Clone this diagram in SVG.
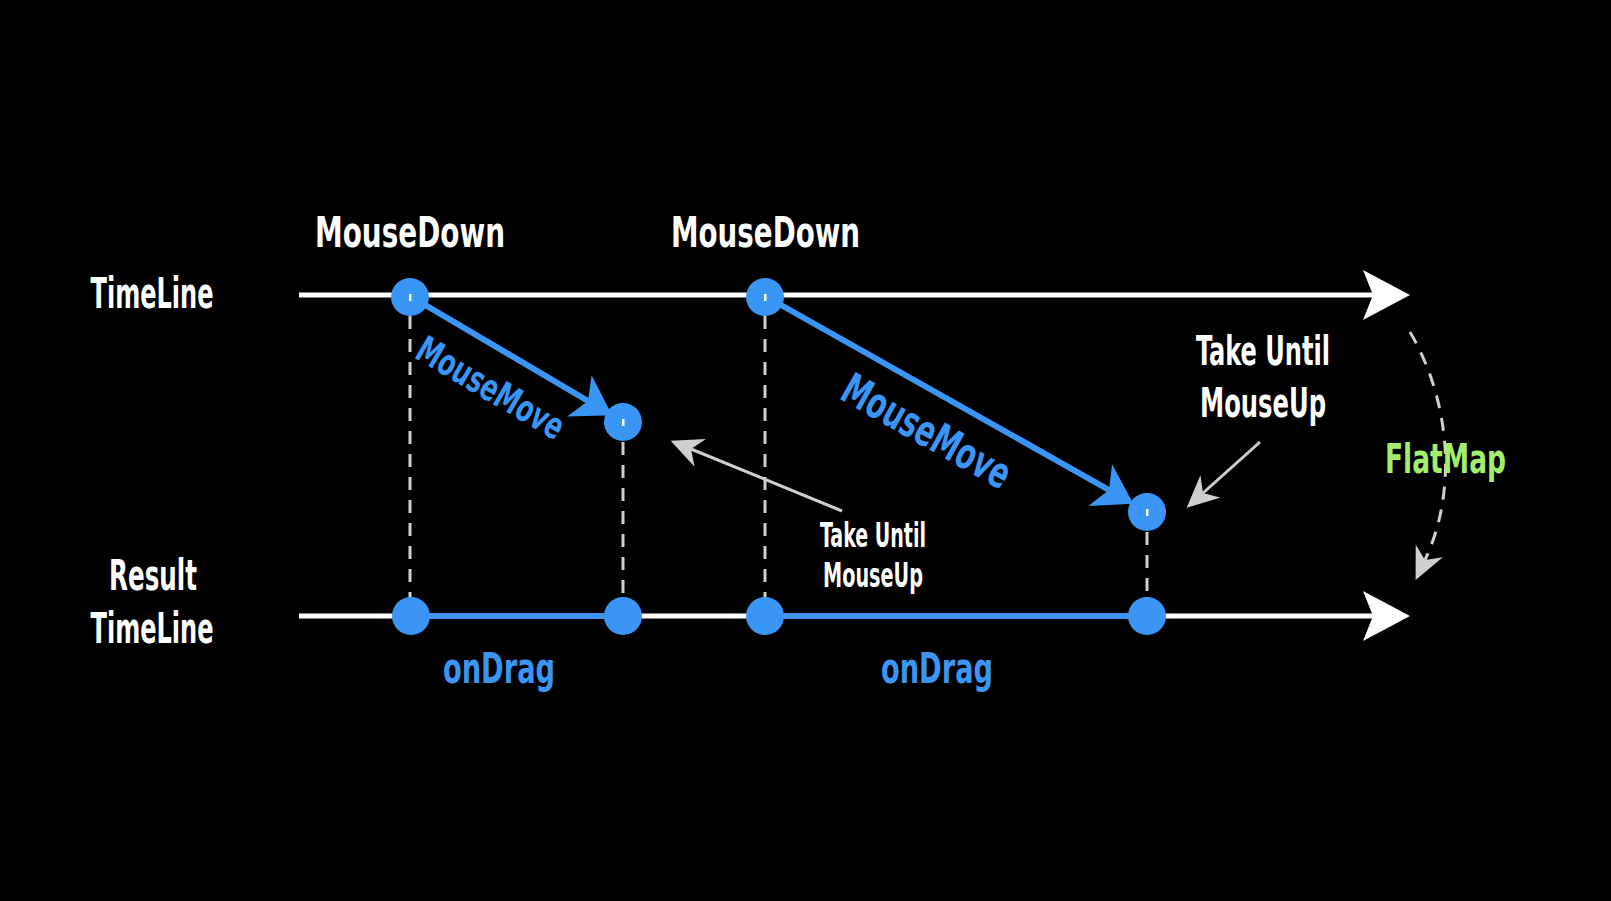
<svg xmlns="http://www.w3.org/2000/svg" width="1611" height="901" viewBox="0 0 1611 901">
<defs>
<style>
text{font-family:"DejaVu Sans Condensed","DejaVu Sans","Liberation Sans",sans-serif;font-weight:bold;}
.w{fill:#ffffff;}
.b{fill:#3b95f4;}
.g{fill:#a4ee6e;}
.tl{stroke:#ffffff;stroke-width:5;fill:none;}
.bl{stroke:#3b95f4;stroke-width:6;fill:none;}
.dash{stroke:#cfcfcf;stroke-width:3;stroke-dasharray:13 10;fill:none;}
.gr{stroke:#cfcfcf;stroke-width:3;fill:none;}
.dot{fill:#3b95f4;}
.tick{fill:#ffffff;}
</style>
<marker id="aw" markerUnits="userSpaceOnUse" viewBox="0 0 47 50" refX="10" refY="25" markerWidth="47" markerHeight="50" orient="auto">
<path d="M0,0 L47,25 L0,50 L10,25 Z" fill="#ffffff"/>
</marker>
<marker id="ab" markerUnits="userSpaceOnUse" viewBox="0 0 38 48" refX="10" refY="24" markerWidth="38" markerHeight="48" orient="auto">
<path d="M0,0 L38,24 L0,48 L10,24 Z" fill="#3b95f4"/>
</marker>
<marker id="ag" markerUnits="userSpaceOnUse" viewBox="0 0 32 30" refX="10" refY="15" markerWidth="32" markerHeight="30" orient="auto">
<path d="M0,0 L32,15 L0,30 L10,15 Z" fill="#cfcfcf"/>
</marker>
</defs>
<rect x="0" y="0" width="1611" height="901" fill="#000000"/>

<g id="connectors">
<line class="tl" x1="299" y1="295" x2="1373" y2="295" marker-end="url(#aw)"/>
<line class="tl" x1="299" y1="616" x2="1373" y2="616" marker-end="url(#aw)"/>
<line class="bl" x1="411" y1="616" x2="623" y2="616"/>
<line class="bl" x1="765" y1="616" x2="1147" y2="616"/>
<line class="dash" x1="410" y1="316" x2="410" y2="598"/>
<line class="dash" x1="623" y1="442" x2="623" y2="598"/>
<line class="dash" x1="765" y1="316" x2="765" y2="598"/>
<line class="dash" x1="1147" y1="532" x2="1147" y2="598"/>
<line class="bl" x1="410" y1="296" x2="588" y2="401" marker-end="url(#ab)"/>
<line class="bl" x1="765" y1="296" x2="1109" y2="490" marker-end="url(#ab)"/>
<line class="gr" x1="842" y1="511" x2="691" y2="449" marker-end="url(#ag)"/>
<line class="gr" x1="1260" y1="442" x2="1203" y2="493" marker-end="url(#ag)"/>
<path class="dash" d="M1410,332 C1450,400 1458,490 1425,560" marker-end="url(#ag)"/>
</g>

<g id="dots">
<g id="n-md1"><circle class="dot" cx="410" cy="297" r="19"/><rect class="tick" x="409" y="294" width="2.5" height="7"/></g>
<g id="n-md2"><circle class="dot" cx="765" cy="297" r="19"/><rect class="tick" x="764" y="294" width="2.5" height="7"/></g>
<g id="n-mu1"><circle class="dot" cx="623" cy="422" r="19"/><rect class="tick" x="622" y="419" width="2.5" height="7"/></g>
<g id="n-mu2"><circle class="dot" cx="1147" cy="512" r="19"/><rect class="tick" x="1146" y="509" width="2.5" height="7"/></g>
<g id="n-r1"><circle class="dot" cx="411" cy="616" r="19"/></g>
<g id="n-r2"><circle class="dot" cx="623" cy="616" r="19"/></g>
<g id="n-r3"><circle class="dot" cx="765" cy="616" r="19"/></g>
<g id="n-r4"><circle class="dot" cx="1147" cy="616" r="19"/></g>
</g>

<g id="labels">
<text class="w" x="152" y="308" font-size="42" text-anchor="middle" textLength="123" lengthAdjust="spacingAndGlyphs">TimeLine</text>
<text class="w" x="153" y="590" font-size="42" text-anchor="middle" textLength="88" lengthAdjust="spacingAndGlyphs">Result</text>
<text class="w" x="152" y="643" font-size="42" text-anchor="middle" textLength="123" lengthAdjust="spacingAndGlyphs">TimeLine</text>
<text class="w" x="315" y="247" font-size="43" textLength="190" lengthAdjust="spacingAndGlyphs">MouseDown</text>
<text class="w" x="671" y="247" font-size="43" textLength="189" lengthAdjust="spacingAndGlyphs">MouseDown</text>
<text class="b" x="443" y="683" font-size="42" textLength="112" lengthAdjust="spacingAndGlyphs">onDrag</text>
<text class="b" x="881" y="683" font-size="42" textLength="112" lengthAdjust="spacingAndGlyphs">onDrag</text>
<text class="b" font-size="37" textLength="165" lengthAdjust="spacingAndGlyphs" transform="translate(413,357) rotate(30.5)">MouseMove</text>
<text class="b" font-size="43" textLength="187" lengthAdjust="spacingAndGlyphs" transform="translate(838,398) rotate(29.5)">MouseMove</text>
<text class="w" x="873" y="547" font-size="34" text-anchor="middle" textLength="106" lengthAdjust="spacingAndGlyphs">Take Until</text>
<text class="w" x="873" y="587" font-size="34" text-anchor="middle" textLength="100" lengthAdjust="spacingAndGlyphs">MouseUp</text>
<text class="w" x="1263" y="365" font-size="40" text-anchor="middle" textLength="134" lengthAdjust="spacingAndGlyphs">Take Until</text>
<text class="w" x="1263" y="417" font-size="40" text-anchor="middle" textLength="126" lengthAdjust="spacingAndGlyphs">MouseUp</text>
<text class="g" x="1385" y="473" font-size="40" textLength="121" lengthAdjust="spacingAndGlyphs">FlatMap</text>
</g>
</svg>
